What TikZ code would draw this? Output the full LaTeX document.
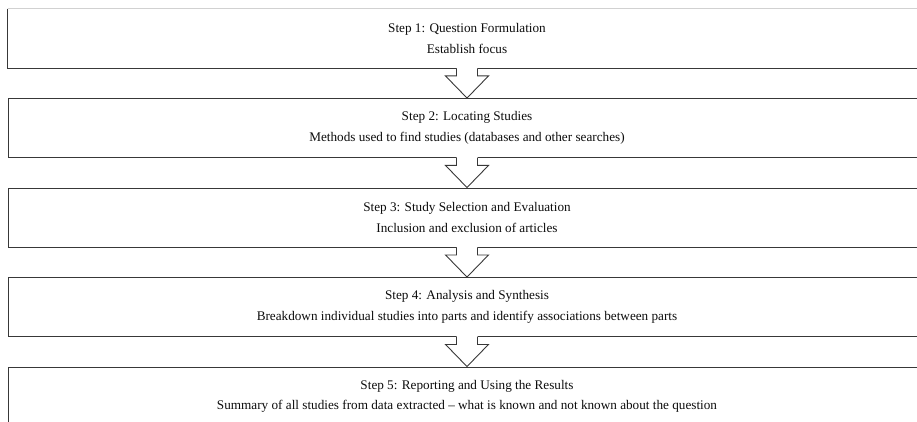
\documentclass[tikz,border=0pt]{standalone}
\usepackage{fontspec}
\setmainfont{Liberation Serif}
\usetikzlibrary{calc}

\tikzset{
  stepbox/.style={draw=black!78, line width=0.9pt, fill=white,
    minimum width=918pt, minimum height=59pt, inner sep=0pt,
    align=center, text=black!95,
    font=\fontsize{13.2}{20.5}\selectfont},
  edgeline/.style={draw=black!78, line width=0.9pt},
  arrowline/.style={draw=black!78, line width=0.9pt, line join=miter},
  arrowfill/.style={fill=white}
}

% hollow block arrow hanging from the bottom edge of one step box
% and pointing at the top edge of the next one
\newcommand\steparrow[2]{%
  \fill[arrowfill] ($(#1.south)+(-10.5,-1)$) -- ($(#1.south)+(-10.5,7.5)$)
    -- ($(#1.south)+(-21.5,7.5)$) -- (#2.north) -- ($(#1.south)+(21.5,7.5)$)
    -- ($(#1.south)+(10.5,7.5)$) -- ($(#1.south)+(10.5,-1)$) -- cycle;
  \draw[arrowline] ($(#1.south)+(-10.5,0)$) -- ($(#1.south)+(-10.5,7.5)$)
    -- ($(#1.south)+(-21.5,7.5)$) -- (#2.north) -- ($(#1.south)+(21.5,7.5)$)
    -- ($(#1.south)+(10.5,7.5)$) -- ($(#1.south)+(10.5,0)$);
}

\begin{document}
\begin{tikzpicture}[x=1pt, y=-1pt]
  \useasboundingbox (0,0) rectangle (917,422);
  \clip (0,0) rectangle (917,422);

  \node[stepbox, draw=none] (s1) at (467, 38.5)
    {Step 1: Question Formulation\\Establish focus};
  \node[stepbox] (s2) at (467, 128)
    {Step 2: Locating Studies\\Methods used to find studies (databases and other searches)};
  \node[stepbox] (s3) at (467, 217.5)
    {Step 3: Study Selection and Evaluation\\Inclusion and exclusion of articles};
  \node[stepbox] (s4) at (467, 307)
    {Step 4: Analysis and Synthesis\\Breakdown individual studies into parts and identify associations between parts};
  \node[stepbox] (s5) at (467, 396.5)
    {Step 5: Reporting and Using the Results\\Summary of all studies from data extracted -- what is known and not known about the question};

  % first box: faint top rule, regular sides and bottom
  \draw[black!18, line width=0.9pt] (s1.north west) -- (s1.north east);
  \draw[edgeline] (s1.north west) -- (s1.south west) -- (s1.south east) -- (s1.north east);

  \steparrow{s1}{s2}
  \steparrow{s2}{s3}
  \steparrow{s3}{s4}
  \steparrow{s4}{s5}
\end{tikzpicture}
\end{document}
